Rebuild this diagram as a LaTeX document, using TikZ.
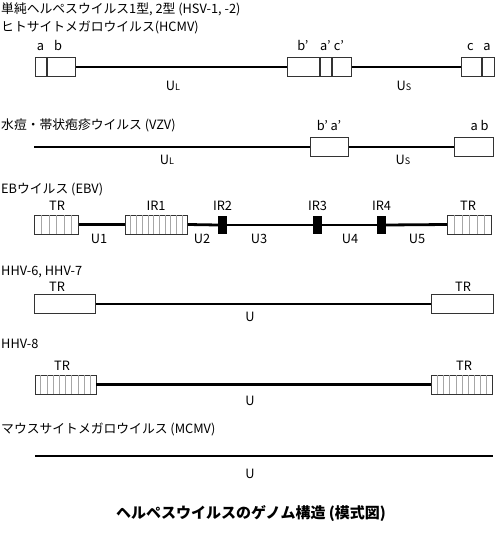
\documentclass[tikz,border=0pt]{standalone}
\usepackage{fontspec}
\setmainfont{Noto Sans CJK JP}
\usetikzlibrary{calc,positioning}

% small letter after U (U_L, U_S)
\newcommand{\usub}[1]{U{\fontsize{9}{9}\selectfont #1}}

\begin{document}
\begin{tikzpicture}[x=1pt,y=-1pt,
    cell/.style={draw=black!80, line width=0.9pt, fill=white, inner sep=0pt, minimum height=19pt, anchor=west},
    genome/.style={line width=2.8pt},
    irbar/.style={fill=black, inner sep=0pt, minimum width=9pt, minimum height=18pt},
    lbl/.style={inner sep=0pt, anchor=base, font=\fontsize{12.8}{15}\selectfont},
    title/.style={lbl, anchor=base west},
    stripe/.style={black!35, line width=0.5pt, shorten <=0.45pt, shorten >=0.45pt}]
\useasboundingbox (0,0) rectangle (496,534);

% HSV-1, -2 / HCMV
\node[title] (hsv) at (1,14) {単純ヘルペスウイルス1型, 2型 (HSV-1, -2)};
\node[title] (hcmv) at (1,32) {ヒトサイトメガロウイルス(HCMV)};
\node[cell, minimum width=11pt] (a1) at (35,67) {};
\node[cell, minimum width=28pt] (b1) at (a1.east) {};
\node[cell, minimum width=32pt] (b2) at (287,67) {};
\node[cell, minimum width=11pt] (a2) at (b2.east) {};
\node[cell, minimum width=19pt] (c2) at (a2.east) {};
\node[cell, minimum width=20pt] (c3) at (461,67) {};
\node[cell, minimum width=12pt] (a3) at (c3.east) {};
\draw[genome] (b1.east) -- (b2.west);
\draw[genome] (c2.east) -- (c3.west);
\node[lbl] (la1) at (40.5,51) {a};
\node[lbl] (lb1) at (58,51) {b};
\node[lbl] (lb2) at (303,51) {b'};
\node[lbl] (la2) at (325.5,51) {a'};
\node[lbl] (lc2) at (339,51) {c'};
\node[lbl] (lc3) at (470.5,51) {c};
\node[lbl] (la3) at (487,51) {a};
\node[lbl] (ul1) at (173,91) {\usub{L}};
\node[lbl] (us1) at (404,91) {\usub{S}};

% VZV
\node[title] (vzv) at (1,130) {水痘・帯状疱疹ウイルス (VZV)};
\coordinate (vzv0) at (34,147);
\node[cell, minimum width=38pt] (ba) at (310,147) {};
\node[cell, minimum width=39pt] (ab) at (454,147) {};
\draw[genome] (vzv0) -- (ba.west);
\draw[genome] (ba.east) -- (ab.west);
\node[lbl] (lba) at (329,131) {b' a'};
\node[lbl] (lab) at (479.5,131) {a b};
\node[lbl] (ul2) at (167,165) {\usub{L}};
\node[lbl] (us2) at (403,165) {\usub{S}};

% EBV
\node[title] (ebv) at (1,194) {EBウイルス (EBV)};
\node[cell, minimum width=44pt] (tr1) at (34,224.5) {};
\node[cell, minimum width=62pt] (ir1) at (125,224.5) {};
\node[irbar] (ir2) at (222.5,225) {};
\node[irbar] (ir3) at (317.5,225) {};
\node[irbar] (ir4) at (381.5,225) {};
\node[cell, minimum width=44pt] (tr2) at (447,224.5) {};
\draw[genome] (tr1.east) -- (ir1.west);
\draw[genome] (ir1.east) -- (ir2.west);
\draw[genome] (ir2.east) -- (ir3.west);
\draw[genome] (ir3.east) -- (ir4.west);
\draw[genome] (ir4.east) -- (tr2.west);
\node[lbl] (ltr1) at (57,211) {TR};
\node[lbl] (lir1) at (156,211) {IR1};
\node[lbl] (lir2) at (222.5,211) {IR2};
\node[lbl] (lir3) at (317.5,211) {IR3};
\node[lbl] (lir4) at (381.5,211) {IR4};
\node[lbl] (ltr2) at (468,211) {TR};
\node[lbl] (u1) at (99,243) {U1};
\node[lbl] (u2) at (202,243) {U2};
\node[lbl] (u3) at (259,243) {U3};
\node[lbl] (u4) at (350,243) {U4};
\node[lbl] (u5) at (417,243) {U5};

% HHV-6, HHV-7
\node[title] (hhv6) at (1,275) {HHV-6, HHV-7};
\node[cell, minimum width=61pt] (tr5) at (34,304) {};
\node[cell, minimum width=62pt] (tr6) at (431,304) {};
\draw[genome] (tr5.east) -- (tr6.west);
\node[lbl] (ltr5) at (57,291) {TR};
\node[lbl] (ltr6) at (463,291) {TR};
\node[lbl] (u6) at (250,321) {U};

% HHV-8
\node[title] (hhv8) at (1,348) {HHV-8};
\node[cell, minimum width=61pt] (tr3) at (34.5,384.5) {};
\node[cell, minimum width=61pt] (tr4) at (431,384.5) {};
\draw[genome] (tr3.east) -- (tr4.west);
\node[lbl] (ltr3) at (62,370) {TR};
\node[lbl] (ltr4) at (464,370) {TR};
\node[lbl] (u8) at (250,405) {U};

% stripes of the repeats
\foreach \n/\k in {tr1/6, ir1/11, tr2/6, tr3/10, tr4/10} {
  \pgfmathtruncatemacro\last{\k-1}
  \foreach \i in {1,...,\last}
    \draw[stripe] ($(\n.north west)!\i/\k!(\n.north east)$) -- ($(\n.south west)!\i/\k!(\n.south east)$);
}

% MCMV
\node[title] (mcmv) at (1,433) {マウスサイトメガロウイルス (MCMV)};
\coordinate (mc0) at (35,456);
\coordinate (mc1) at (493,456);
\draw[genome] (mc0) -- (mc1);
\node[lbl] (um) at (250,478) {U};

% caption
\node[lbl, font=\fontsize{15}{17}\selectfont\bfseries] (cap) at (251,518) {ヘルペスウイルスのゲノム構造 (模式図)};
\end{tikzpicture}
\end{document}
